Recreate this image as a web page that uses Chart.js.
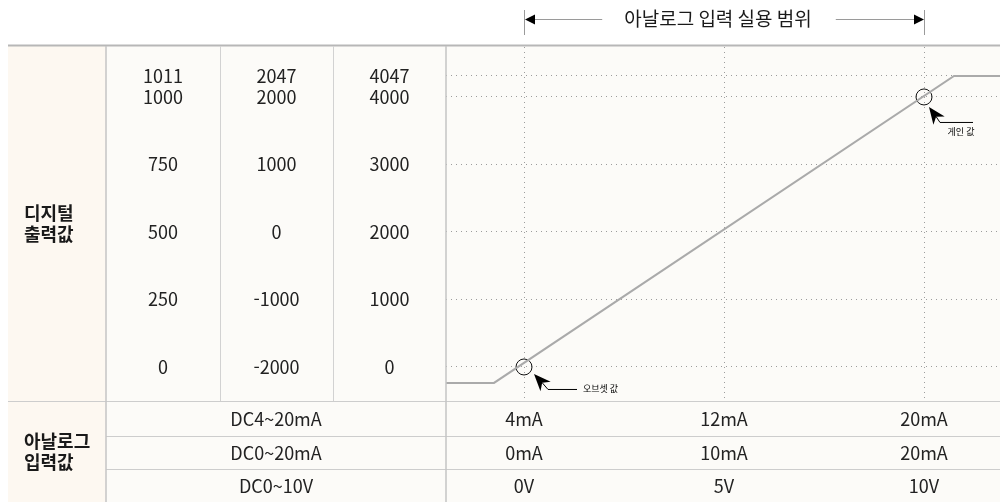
<!DOCTYPE html>
<html lang="ko">
<head>
<meta charset="utf-8">
<title>아날로그 입력 실용 범위</title>
<script src="https://cdn.jsdelivr.net/npm/chart.js@4.4.1/dist/chart.umd.min.js"></script>
<style>
  html, body { margin: 0; padding: 0; background: #ffffff; }
  #wrap { width: 1000px; height: 502px; }
</style>
</head>
<body>
<div id="wrap"><canvas id="rangeChart" width="1000" height="502"></canvas></div>
<script>
// digital output rows (the 1011 row sits a bit above 1000 in the drawing)
const tickPos = [0, 250, 500, 750, 1000, 1078];
const digitalA = ['0', '250', '500', '750', '1000', '1011'];
const digitalB = ['-2000', '-1000', '0', '1000', '2000', '2047'];
const digitalC = ['0', '1000', '2000', '3000', '4000', '4047'];

// analog input columns
const inputPos = [0, 5, 10];
const inputRanges = ['DC4~20mA', 'DC0~20mA', 'DC0~10V'];
const inputA = ['4mA', '12mA', '20mA'];
const inputB = ['0mA', '10mA', '20mA'];
const inputC = ['0V', '5V', '10V'];

// conversion curve
const curveX = [-1.95, -0.75, 10.75, 11.9];
const curveY = [-59, -59, 1078, 1078];

// offset / gain points
const markX = [0, 10];
const markY = [0, 1000];
const markLabels = ['오브셋 값', '게인 값'];

const rowTitles = [['디지털', '출력값'], ['아날로그', '입력값']];
const headerTitle = '아날로그 입력 실용 범위';

const FONT = "'Noto Sans CJK KR', 'Noto Sans', sans-serif";
const NUM_SIZE = 18;
const X_MIN = -1.95, X_MAX = 11.9;
const Y_MIN = -126, Y_MAX = 1185;

Chart.defaults.font.family = FONT;
Chart.defaults.color = '#222';

const measure = document.createElement('canvas').getContext('2d');
function widest(labels) {
    measure.font = 'normal ' + NUM_SIZE + 'px ' + FONT;
    return Math.max(...labels.map(t => measure.measureText(t).width));
}

function digitalAxis(labels, colW, weight, grid) {
    return {
        type: 'linear',
        position: 'left',
        weight: weight,
        min: Y_MIN,
        max: Y_MAX,
        afterBuildTicks: s => { s.ticks = tickPos.map(v => ({ value: v })); },
        afterFit: s => { s.width = colW; s.paddingTop = 0; s.paddingBottom = 0; },
        ticks: {
            autoSkip: false,
            crossAlign: 'center',
            padding: colW / 2 - widest(labels) / 2,
            font: { size: NUM_SIZE },
            callback: (v, i) => labels[i]
        },
        grid: { display: grid, drawTicks: false, color: '#9c9c9c', lineWidth: 1 },
        border: { display: false, dash: [1, 4] }
    };
}

function inputAxis(labels, rowH, weight, grid) {
    return {
        type: 'linear',
        position: 'bottom',
        weight: weight,
        min: X_MIN,
        max: X_MAX,
        afterBuildTicks: s => { s.ticks = inputPos.map(v => ({ value: v })); },
        afterFit: s => { s.height = rowH; s.paddingLeft = 0; s.paddingRight = 0; },
        ticks: {
            autoSkip: false,
            maxRotation: 0,
            padding: rowH / 2 - NUM_SIZE * 0.6 + 1,
            font: { size: NUM_SIZE },
            callback: (v, i) => labels[i]
        },
        grid: { display: grid, drawTicks: false, color: '#9c9c9c', lineWidth: 1 },
        border: { display: false, dash: [1, 4] }
    };
}

function line(ctx, x1, y1, x2, y2) {
    ctx.beginPath();
    ctx.moveTo(x1, y1);
    ctx.lineTo(x2, y2);
    ctx.stroke();
}

// filled notched arrow head, returns the point where the shaft starts
function pointer(ctx, tx, ty, fx, fy) {
    const ang = Math.atan2(ty - fy, tx - fx);
    ctx.save();
    ctx.translate(tx, ty);
    ctx.rotate(ang);
    ctx.beginPath();
    ctx.moveTo(0, 0);
    ctx.lineTo(-17, -7);
    ctx.lineTo(-12, 0);
    ctx.lineTo(-17, 7);
    ctx.closePath();
    ctx.fill();
    ctx.restore();
    return [tx - Math.cos(ang) * 12, ty - Math.sin(ang) * 12];
}

const tableFrame = {
    id: 'tableFrame',
    beforeDraw(chart) {
        const { ctx, scales } = chart;
        ctx.save();
        ctx.fillStyle = '#fcfbf8';
        ctx.fillRect(8, 46, chart.width - 8, chart.height - 46);
        ctx.fillStyle = '#fdf8f1';
        ctx.fillRect(8, 46, scales.yA.left - 8, chart.height - 46);
        ctx.restore();
    },
    afterDraw(chart) {
        const { ctx, chartArea: ca, scales } = chart;
        const W = chart.width, H = chart.height;
        const x = scales.x, x2 = scales.x2, x3 = scales.x3;
        ctx.save();

        // table lines
        ctx.fillStyle = '#b7b7b7';
        ctx.fillRect(8, 44.5, W - 8, 2);
        ctx.strokeStyle = '#d2d2d2';
        ctx.lineWidth = 1;
        line(ctx, Math.round(scales.yB.left) + 0.5, 46, Math.round(scales.yB.left) + 0.5, ca.bottom);
        line(ctx, Math.round(scales.yC.left) + 0.5, 46, Math.round(scales.yC.left) + 0.5, ca.bottom);
        ctx.strokeStyle = '#cdcdcd';
        line(ctx, scales.yA.left, Math.round(x.bottom) + 0.5, W, Math.round(x.bottom) + 0.5);
        line(ctx, scales.yA.left, Math.round(x2.bottom) + 0.5, W, Math.round(x2.bottom) + 0.5);
        line(ctx, 8, Math.round(ca.bottom) + 0.5, W, Math.round(ca.bottom) + 0.5);
        ctx.strokeStyle = '#c4c4c4';
        ctx.lineWidth = 1.5;
        line(ctx, scales.yA.left, 46, scales.yA.left, H);
        line(ctx, ca.left, 46, ca.left, H);

        // row titles
        ctx.fillStyle = '#1a1a1a';
        ctx.font = 'bold 18px ' + FONT;
        ctx.textAlign = 'left';
        ctx.textBaseline = 'middle';
        const mids = [(ca.top + ca.bottom) / 2, (ca.bottom + H) / 2];
        rowTitles.forEach((t, i) => {
            ctx.fillText(t[0], 24, mids[i] - 10.5);
            ctx.fillText(t[1], 24, mids[i] + 10.5);
        });

        // input range names
        ctx.fillStyle = '#222';
        ctx.font = 'normal ' + NUM_SIZE + 'px ' + FONT;
        ctx.textAlign = 'center';
        const cx = (scales.yA.left + ca.left) / 2;
        [x, x2, x3].forEach((s, i) => {
            ctx.fillText(inputRanges[i], cx, (s.top + s.bottom) / 2 + 1);
        });

        // header with range arrows
        const p0 = x.getPixelForValue(inputPos[0]);
        const p1 = x.getPixelForValue(inputPos[inputPos.length - 1]);
        const hy = 19;
        ctx.font = 'normal 19px ' + FONT;
        const tw = ctx.measureText(headerTitle).width;
        const tc = (p0 + p1) / 2 - 6;
        ctx.fillStyle = '#1a1a1a';
        ctx.fillText(headerTitle, tc, hy);
        ctx.strokeStyle = '#9a9a9a';
        ctx.lineWidth = 1;
        line(ctx, Math.round(p0) + 0.5, 10, Math.round(p0) + 0.5, 35);
        line(ctx, Math.round(p1) + 0.5, 10, Math.round(p1) + 0.5, 35);
        line(ctx, p0 + 6, hy + 0.5, tc - tw / 2 - 22, hy + 0.5);
        line(ctx, tc + tw / 2 + 24, hy + 0.5, p1 - 6, hy + 0.5);
        ctx.fillStyle = '#000';
        ctx.beginPath();
        ctx.moveTo(p0 + 1, hy + 0.5); ctx.lineTo(p0 + 11, hy - 4.5); ctx.lineTo(p0 + 11, hy + 5.5);
        ctx.closePath(); ctx.fill();
        ctx.beginPath();
        ctx.moveTo(p1, hy + 0.5); ctx.lineTo(p1 - 10, hy - 4.5); ctx.lineTo(p1 - 10, hy + 5.5);
        ctx.closePath(); ctx.fill();

        // offset / gain callouts
        const yS = scales.yC;
        ctx.strokeStyle = '#000';
        ctx.lineWidth = 1;
        ctx.font = 'normal 9px ' + FONT;
        const callouts = [
            { tip: [10, 7], corner: [24, 22], end: [53, 22], text: [59, 22], align: 'left' },
            { tip: [5, 10], corner: [16, 25], end: [49, 25], text: [37, 35], align: 'center' }
        ];
        markX.forEach((mx, i) => {
            const px = x.getPixelForValue(mx), py = yS.getPixelForValue(markY[i]);
            const c = callouts[i];
            const b = pointer(ctx, px + c.tip[0], py + c.tip[1], px + c.corner[0], py + c.corner[1]);
            ctx.beginPath();
            ctx.moveTo(b[0], b[1]);
            ctx.lineTo(px + c.corner[0], py + c.corner[1] + 0.5);
            ctx.lineTo(px + c.end[0], py + c.end[1] + 0.5);
            ctx.stroke();
            ctx.textAlign = c.align;
            ctx.fillText(markLabels[i], px + c.text[0], py + c.text[1]);
        });
        ctx.restore();
    }
};

new Chart(document.getElementById('rangeChart'), {
    type: 'line',
    data: {
        datasets: [
            {
                label: 'curve',
                data: curveX.map((v, i) => ({ x: v, y: curveY[i] })),
                borderColor: '#aaaaaa',
                borderWidth: 2,
                pointRadius: 0,
                tension: 0,
                xAxisID: 'x',
                yAxisID: 'yC'
            },
            {
                label: 'marks',
                data: markX.map((v, i) => ({ x: v, y: markY[i] })),
                showLine: false,
                pointRadius: 8,
                pointBorderWidth: 1,
                pointBorderColor: '#111',
                pointBackgroundColor: 'rgba(0,0,0,0)',
                xAxisID: 'x',
                yAxisID: 'yC'
            }
        ]
    },
    options: {
        responsive: false,
        devicePixelRatio: 1,
        animation: false,
        events: [],
        layout: { autoPadding: false, padding: { left: 106, top: 47, right: 0, bottom: 0 } },
        plugins: { legend: { display: false }, tooltip: { enabled: false } },
        scales: {
            yA: digitalAxis(digitalA, 114, 3, false),
            yB: digitalAxis(digitalB, 113, 2, false),
            yC: digitalAxis(digitalC, 113, 1, true),
            x: inputAxis(inputA, 35, 1, true),
            x2: inputAxis(inputB, 33, 2, false),
            x3: inputAxis(inputC, 33, 3, false)
        }
    },
    plugins: [tableFrame]
});
</script>
</body>
</html>
